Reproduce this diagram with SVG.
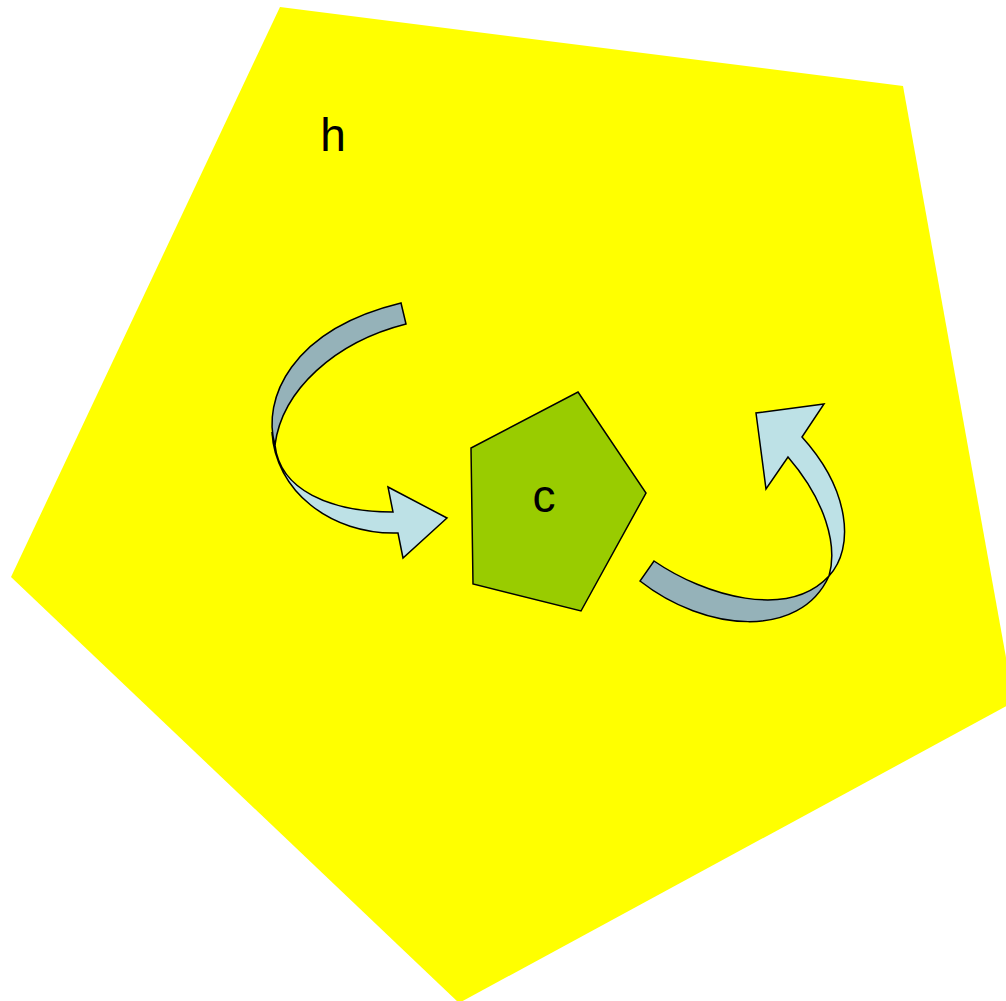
<svg xmlns="http://www.w3.org/2000/svg" width="1006" height="1001" viewBox="0 0 1006 1001">
<style>
.lbl{font-family:"Liberation Sans",Arial,sans-serif;font-size:46px;fill:#000;text-anchor:middle}
.edge{stroke:#000;stroke-width:1.5;stroke-linejoin:miter}
.back{fill:#95B2B9}
.front{fill:#BDE1E6}
</style>
<rect width="1006" height="1001" fill="#fff"/>
<g id="h">
<polygon points="280,7 903,86 1014,702 459,1003 11,577" fill="#FFFF00"/>
<text class="lbl" x="333" y="151">h</text>
</g>
<g id="c">
<polygon points="578,392 646,493 581,611 473,584 471,448" fill="#99CC00" class="edge"/>
<text class="lbl" x="544" y="512">c</text>
</g>
<g id="connectors">
<g id="arrow-h-c">
<path class="back edge" d="M401,303 L406,324 C335,342 282,390 275,445 C262,400 290,330 401,303 Z"/>
<path class="front edge" d="M272,432 C275,490 330,535 398,533 L403,558 L447,518 L388,487 L393,512 C330,512 280,490 275,445 C273,440 272,436 272,432 Z"/>
</g>
<g id="arrow-c-h">
<path class="back edge" d="M654,561 C705,596 788,620 829,576 C800,640 705,632 640,581 Z"/>
<path class="front edge" d="M829,576 C855,548 850,490 802,437 L824,404 L756,413 L766,489 L788,457 C825,500 838,545 829,576 Z"/>
</g>
</g>
</svg>
